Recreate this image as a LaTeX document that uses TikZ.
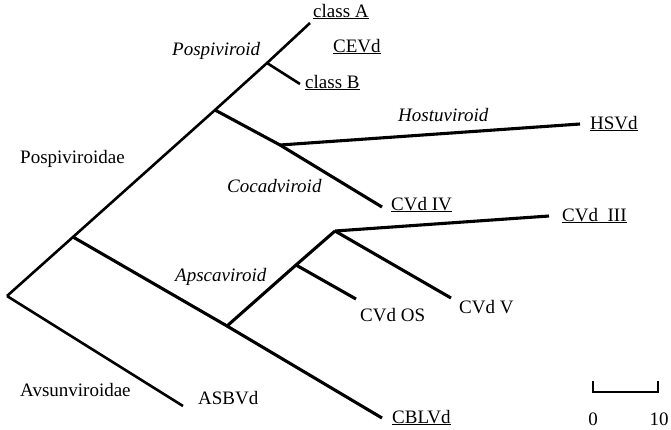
\documentclass[tikz,border=0pt]{standalone}
\usepackage{fontspec}
\setmainfont{Liberation Serif}
\tikzstyle{branch} = [line width=2.6pt, line join=round]
\tikzstyle{heavy} = [line width=3.1pt, line join=round]
\tikzstyle{taxon} = [anchor=base west, inner sep=0pt, font=\fontsize{19}{21}\selectfont]
\tikzstyle{genus} = [taxon, font=\fontsize{19}{21}\selectfont\itshape]
\tikzstyle{tick} = [anchor=base, inner sep=0pt, font=\fontsize{19}{21}\selectfont]

\begin{document}
\begin{tikzpicture}[x=1pt, y=-1pt]
\useasboundingbox (0,0) rectangle (671,429);

% Tree nodes
\coordinate (root) at (7,296);
\coordinate (pospi) at (73,237);
\coordinate (cocad) at (215,110);
\coordinate (pospig) at (267,63);
\coordinate (hostu) at (280,145);
\coordinate (apsca) at (227,326);
\coordinate (os) at (296,265);
\coordinate (cvd3) at (335,231);

% Tips
\coordinate (tipA) at (310,23);
\coordinate (tipB) at (300,84);
\coordinate (tipHSVd) at (580,124);
\coordinate (tipIV) at (382,207);
\coordinate (tipIII) at (549,216);
\coordinate (tipV) at (451,298);
\coordinate (tipOS) at (356,299);
\coordinate (tipCBLVd) at (382,418);
\coordinate (tipASBVd) at (183,406);

% Labels
\node (classA) [taxon] at (313,17) {\underline{class A}};
\node (cevd) [taxon] at (333,52) {\underline{CEVd}};
\node (classB) [taxon] at (305,88) {\underline{class B}};
\node (hsvd) [taxon] at (590,129) {\underline{HSVd}};
\node (cvdIV) [taxon] at (391,210) {\underline{CVd IV}};
\node (cvdIII) [taxon] at (562,221) {\underline{CVd\ \ III}};
\node (cvdOS) [taxon] at (360,321) {CVd OS};
\node (cvdV) [taxon] at (459,313) {CVd V};
\node (cblvd) [taxon] at (392,423) {\underline{CBLVd}};
\node (asbvd) [taxon] at (198,404) {ASBVd};
\node (pospiviroidae) [taxon] at (20,163) {Pospiviroidae};
\node (avsunviroidae) [taxon] at (20,396) {Avsunviroidae};
\node (pospiviroid) [genus] at (172,55) {Pospiviroid};
\node (cocadviroid) [genus] at (227,192) {Cocadviroid};
\node (hostuviroid) [genus] at (398,121) {Hostuviroid};
\node (apscaviroid) [genus] at (175,281) {Apscaviroid};

% Branches
\draw [branch] (root) -- (pospi) -- (cocad) -- (pospig) -- (tipA);
\draw [branch] (pospig) -- (tipB);
\draw [branch] (root) -- (tipASBVd);
\draw [heavy] (cocad) -- (hostu) -- (tipIV);
\draw [heavy] (hostu) -- (tipHSVd);
\draw [heavy] (pospi) -- (apsca) -- (tipCBLVd);
\draw [heavy] (apsca) -- (os) -- (cvd3);
\draw [heavy] (os) -- (tipOS);
\draw [heavy] (cvd3) -- (tipIII);
\draw [heavy] (cvd3) -- (tipV);

% Scale bar
\coordinate (s0) at (593,392);
\coordinate (s10) at (658,392);
\draw [line width=1.8pt] ([yshift=11pt]s0) -- (s0) -- (s10) -- ([yshift=11pt]s10);
\node (zero) [tick] at (593,425) {0};
\node (ten) [tick] at (659,425) {10};

\end{tikzpicture}
\end{document}
